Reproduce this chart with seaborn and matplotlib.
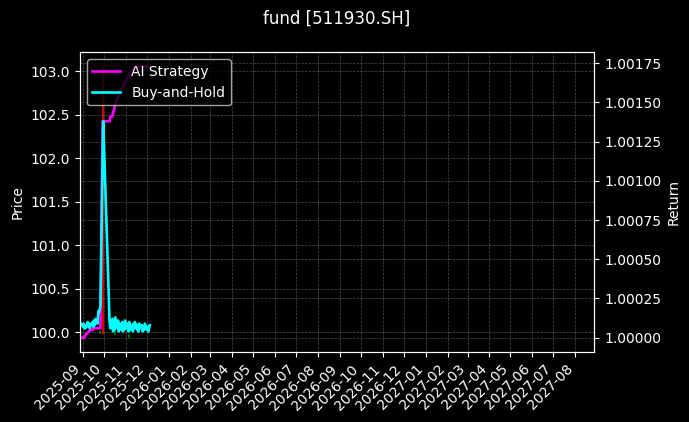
import matplotlib
matplotlib.use("Agg")
import matplotlib.dates as mdates
import matplotlib.pyplot as plt
import numpy as np
import pandas as pd
import seaborn as sns

title = "fund [511930.SH]"

dates = [
    "2025-08-28", "2025-08-29",
    "2025-09-01", "2025-09-02", "2025-09-03", "2025-09-04", "2025-09-05",
    "2025-09-08", "2025-09-09", "2025-09-10", "2025-09-11", "2025-09-12",
    "2025-09-15", "2025-09-16", "2025-09-17", "2025-09-18", "2025-09-19",
    "2025-09-22", "2025-09-23", "2025-09-24", "2025-09-25", "2025-09-26",
    "2025-09-29", "2025-09-30",
    "2025-10-09", "2025-10-10",
    "2025-10-13", "2025-10-14", "2025-10-15", "2025-10-16", "2025-10-17",
    "2025-10-20", "2025-10-21", "2025-10-22", "2025-10-23", "2025-10-24",
    "2025-10-27", "2025-10-28", "2025-10-29", "2025-10-30", "2025-10-31",
    "2025-11-03", "2025-11-04", "2025-11-05", "2025-11-06", "2025-11-07",
    "2025-11-10", "2025-11-11", "2025-11-12", "2025-11-13", "2025-11-14",
    "2025-11-17", "2025-11-18", "2025-11-19", "2025-11-20", "2025-11-21",
    "2025-11-24", "2025-11-25", "2025-11-26", "2025-11-27", "2025-11-28",
    "2025-12-01", "2025-12-02", "2025-12-03", "2025-12-04", "2025-12-05",
]

ai_strategy = [
    1.00000, 1.00000,
    1.00000, 1.00000, 1.00000, 1.00001, 1.00002,
    1.00003, 1.00004, 1.00004, 1.00005, 1.00005,
    1.00005, 1.00006, 1.00006, 1.00006, 1.00006,
    1.00006, 1.00006, 1.00006, 1.00006, 1.00006,
    1.00138, 1.00138,
    1.00138, 1.00141,
    1.00141, 1.00144, 1.00144, 1.00147, 1.00150,
    1.00152, 1.00153, 1.00155, 1.00156, 1.00157,
    1.00159, 1.00160, 1.00161, 1.00162, 1.00163,
    1.00165, 1.00166, 1.00167, 1.00168, 1.00169,
    1.00170, 1.00171, 1.00171, 1.00172, 1.00172,
    1.00172, 1.00172, 1.00173, 1.00173, 1.00173,
    1.00173, 1.00173, 1.00173, 1.00173, 1.00173,
    1.00173, 1.00173, 1.00173, 1.00173, 1.00173,
]

buy_and_hold = [
    1.00010, 1.00009,
    1.00007, 1.00009, 1.00006, 1.00008, 1.00006,
    1.00010, 1.00007, 1.00009, 1.00006, 1.00008,
    1.00010, 1.00007, 1.00011, 1.00008, 1.00012,
    1.00009, 1.00017, 1.00016, 1.00018, 1.00020,
    1.00112, 1.00138,
    1.00010, 1.00006,
    1.00012, 1.00004, 1.00010, 1.00005, 1.00013,
    1.00006, 1.00011, 1.00004, 1.00009, 1.00005,
    1.00010, 1.00004, 1.00008, 1.00005, 1.00011,
    1.00006, 1.00009, 1.00004, 1.00010, 1.00005,
    1.00008, 1.00004, 1.00009, 1.00006, 1.00010,
    1.00005, 1.00008, 1.00004, 1.00009, 1.00006,
    1.00008, 1.00004, 1.00007, 1.00005, 1.00009,
    1.00005, 1.00007, 1.00004, 1.00006, 1.00008,
]

open_px = [
    100.00, 100.00,
    100.00, 100.00, 100.00, 100.00, 100.00,
    100.00, 100.00, 100.00, 100.00, 100.00,
    100.00, 100.00, 100.00, 100.00, 100.00,
    100.00, 100.00, 100.00, 99.99, 100.00,
    100.00, 102.60,
    100.00, 100.00,
    100.00, 100.00, 100.00, 99.99, 100.00,
    100.00, 100.00, 100.00, 100.00, 100.00,
    100.00, 100.00, 100.00, 100.00, 100.00,
    100.00, 100.00, 99.96, 100.00, 100.00,
    100.00, 100.00, 100.00, 100.00, 100.00,
    100.00, 100.00, 100.00, 100.00, 100.00,
    100.00, 100.00, 100.00, 100.00, 100.00,
    100.00, 100.00, 100.00, 100.00, 100.00,
]

close_px = [
    100.00, 100.00,
    100.00, 100.00, 100.00, 100.00, 100.00,
    100.00, 100.00, 100.00, 100.00, 100.00,
    100.00, 100.00, 100.00, 100.00, 100.00,
    100.00, 100.00, 100.00, 100.01, 100.00,
    100.00, 100.01,
    100.00, 100.00,
    100.00, 100.00, 100.00, 100.00, 100.00,
    100.00, 100.00, 100.00, 100.00, 100.00,
    100.00, 100.00, 100.00, 100.00, 100.00,
    100.00, 100.00, 99.97, 100.00, 100.00,
    100.00, 100.00, 100.00, 100.00, 100.00,
    100.00, 100.00, 100.00, 100.00, 100.00,
    100.00, 100.00, 100.00, 100.00, 100.00,
    100.00, 100.00, 100.00, 100.00, 100.00,
]

high_px = [
    100.00, 100.00,
    100.00, 100.00, 100.00, 100.00, 100.00,
    100.00, 100.00, 100.00, 100.00, 100.00,
    100.00, 100.00, 100.00, 100.00, 100.00,
    100.00, 100.00, 100.00, 100.02, 100.00,
    100.00, 103.06,
    100.00, 100.00,
    100.00, 100.00, 100.00, 100.01, 100.00,
    100.00, 100.00, 100.00, 100.00, 100.00,
    100.00, 100.00, 100.00, 100.00, 100.00,
    100.00, 100.00, 99.98, 100.00, 100.00,
    100.00, 100.00, 100.00, 100.00, 100.00,
    100.00, 100.00, 100.00, 100.00, 100.00,
    100.00, 100.00, 100.00, 100.00, 100.00,
    100.00, 100.00, 100.00, 100.00, 100.00,
]

low_px = [
    100.00, 100.00,
    100.00, 100.00, 100.00, 100.00, 100.00,
    100.00, 100.00, 100.00, 100.00, 100.00,
    100.00, 100.00, 100.00, 100.00, 100.00,
    100.00, 100.00, 100.00, 99.98, 100.00,
    100.00, 99.98,
    100.00, 100.00,
    100.00, 100.00, 100.00, 99.97, 100.00,
    100.00, 100.00, 100.00, 100.00, 100.00,
    100.00, 100.00, 100.00, 100.00, 100.00,
    100.00, 100.00, 99.93, 100.00, 100.00,
    100.00, 100.00, 100.00, 100.00, 100.00,
    100.00, 100.00, 100.00, 100.00, 100.00,
    100.00, 100.00, 100.00, 100.00, 100.00,
    100.00, 100.00, 100.00, 100.00, 100.00,
]

plt.style.use("dark_background")

df = pd.DataFrame({
    "date": pd.to_datetime(dates),
    "open": open_px,
    "high": high_px,
    "low": low_px,
    "close": close_px,
    "ai": ai_strategy,
    "bh": buy_and_hold,
})

fig = plt.figure(figsize=(6.89, 4.22), dpi=100)
ax = fig.add_axes([0.1161, 0.1652, 0.7465, 0.7109])

# candles on the price axis
colors = np.where(df["close"] >= df["open"], "green", "red")
ax.vlines(df["date"], df["low"], df["high"], colors=colors, lw=1.2)
ax.bar(df["date"], (df["close"] - df["open"]).abs(),
       bottom=df[["open", "close"]].min(axis=1), width=0.6,
       color=colors, linewidth=0)
ax.set_ylim(99.77, 103.22)
ax.set_ylabel("Price")
ax.grid(True, linestyle="--", linewidth=0.5, alpha=0.3)

# returns on the twin axis
ax2 = ax.twinx()
sns.lineplot(data=df, x="date", y="ai", ax=ax2, color="magenta",
             linewidth=1.9, label="AI Strategy")
sns.lineplot(data=df, x="date", y="bh", ax=ax2, color="cyan",
             linewidth=1.9, label="Buy-and-Hold")
ax2.set_ylim(0.999907, 1.00182)
ax2.ticklabel_format(axis="y", useOffset=False)
ax2.set_ylabel("Return")
ax2.set_xlabel("")
ax2.grid(True, axis="y", linestyle="--", linewidth=0.5, alpha=0.3)
ax2.legend(loc="upper left")

ax.set_xlim(pd.Timestamp("2025-08-28"), pd.Timestamp("2027-08-28"))
ax.xaxis.set_major_locator(mdates.MonthLocator())
ax.xaxis.set_major_formatter(mdates.DateFormatter("%Y-%m"))
plt.setp(ax.get_xticklabels(), rotation=45, ha="right")
ax.set_xlabel("")

fig.suptitle(title, x=0.4887, y=0.9566, va="center", fontsize=12)
fig.savefig("out.png", dpi=100)
plt.close(fig)
